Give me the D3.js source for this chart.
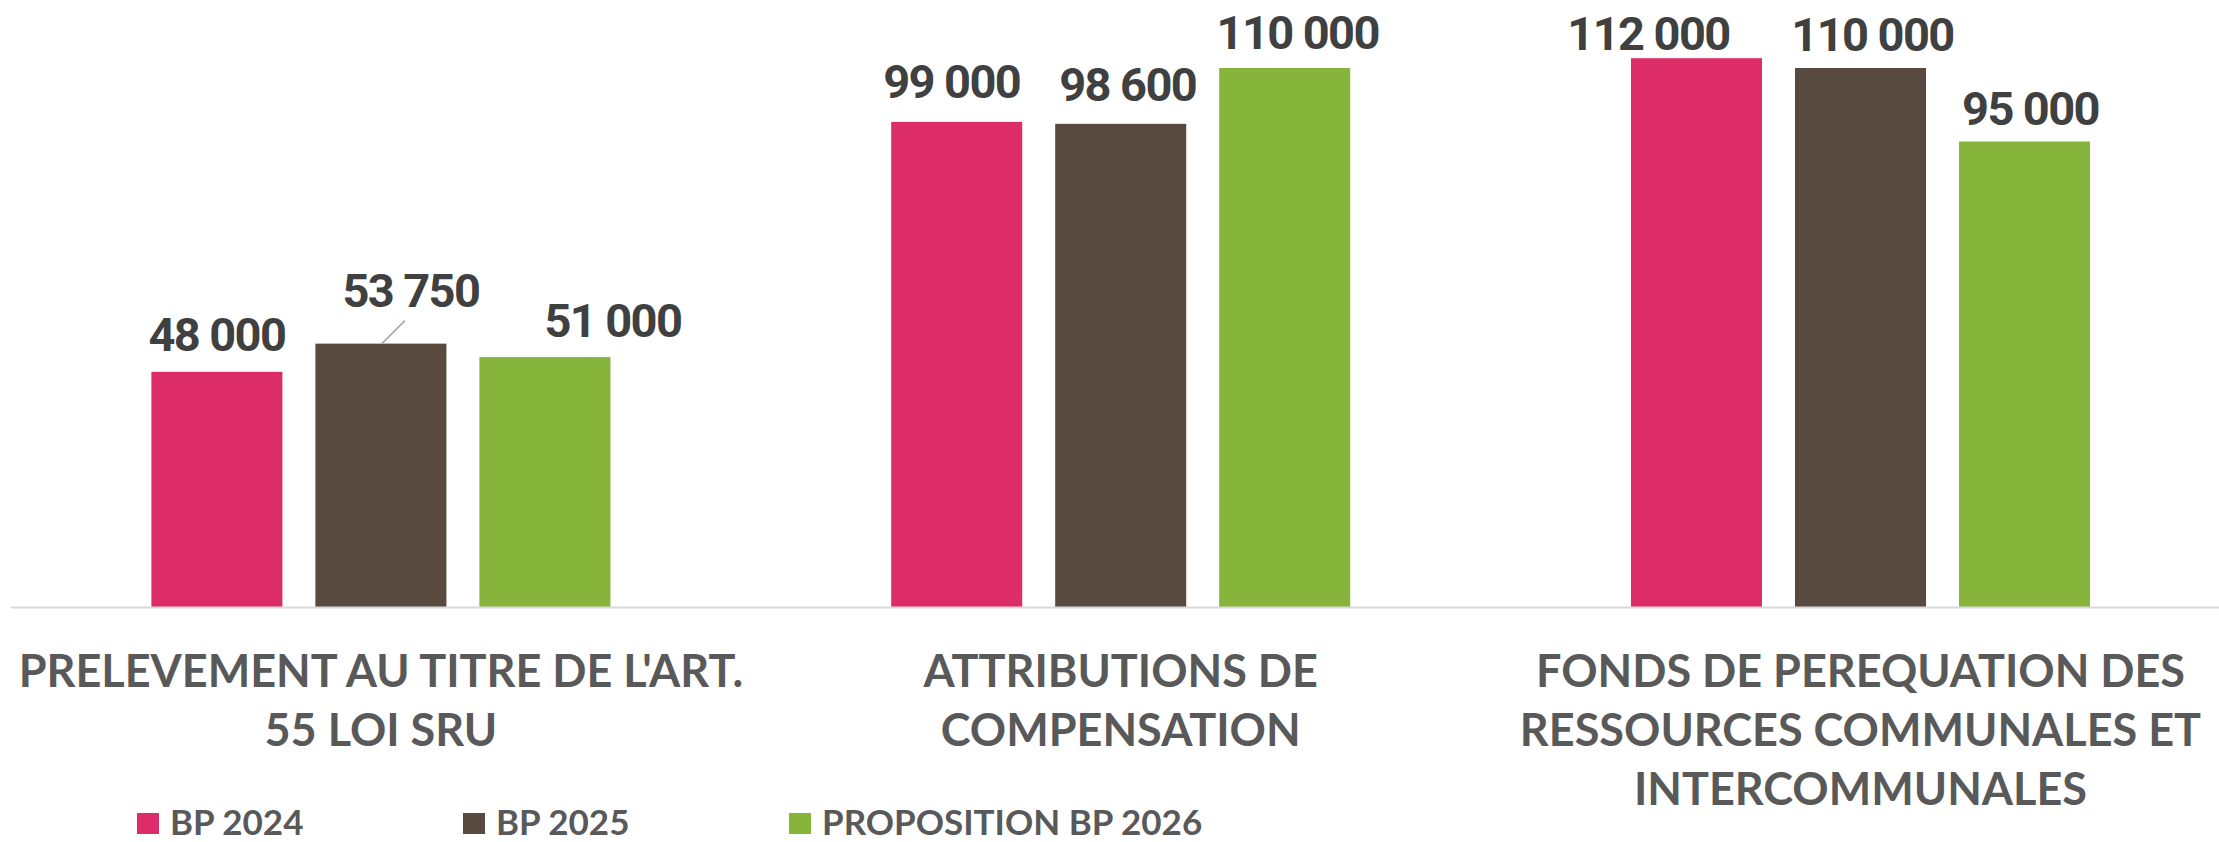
<!DOCTYPE html>
<html>
<head>
<meta charset="utf-8">
<script src="https://cdn.jsdelivr.net/npm/d3@7"></script>
<style>
  body { margin: 0; background: #fff; }
  svg { display: block; }
</style>
</head>
<body>
<div id="chart"></div>
<script>
// categories (one line per array entry, as wrapped in the original)
const categories = ["SRU", "AC", "FPIC"];
const categoryLines = [
    ["PRELEVEMENT AU TITRE DE L'ART.", "55 LOI SRU"],
    ["ATTRIBUTIONS DE", "COMPENSATION"],
    ["FONDS DE PEREQUATION DES", "RESSOURCES COMMUNALES ET", "INTERCOMMUNALES"]
];

// series
const series = ["BP 2024", "BP 2025", "PROPOSITION BP 2026"];
const bp2024 = [48000, 99000, 112000];
const bp2025 = [53750, 98600, 110000];
const bp2026 = [51000, 110000, 95000];
const colours = ["#DD2D69", "#594A40", "#87B43A"];

// label nudges (dx, dy) like the hand placed labels in the original
const labelNudge = [
    [[0, -21], [30, -37], [68, -20]],
    [[-5, -24], [7, -23], [13, -19]],
    [[-48, -8], [12, -17], [6, -17]]
];

const width = 2219, height = 842;
const baseline = 607;

const svg = d3.select("#chart")
    .append("svg")
    .attr("width", width)
    .attr("height", height);

// Scales
const x = d3.scaleBand()
    .domain(categories)
    .range([11, 2230.4]);

const xSub = d3.scaleBand()
    .domain(series)
    .range([0, x.bandwidth()])
    .paddingInner(0.201)
    .paddingOuter(0.856);

const y = d3.scaleLinear()
    .domain([0, 120000])
    .range([baseline, 19]);

const fmt = v => d3.format(",")(v).replace(/,/g, " ");

// Build rows
const rows = [];
categories.forEach((c, i) => {
    [bp2024, bp2025, bp2026].forEach((vals, j) => {
        rows.push({cat: c, ci: i, s: series[j], si: j, value: vals[i]});
    });
});

// Bars
svg.selectAll(".bar")
    .data(rows)
    .join("rect")
    .attr("class", "bar")
    .attr("x", d => x(d.cat) + xSub(d.s))
    .attr("y", d => y(d.value))
    .attr("width", xSub.bandwidth())
    .attr("height", d => baseline - y(d.value))
    .attr("fill", d => colours[d.si]);

// Axis line
svg.append("line")
    .attr("x1", 11)
    .attr("x2", width)
    .attr("y1", baseline + 0.5)
    .attr("y2", baseline + 0.5)
    .attr("stroke", "#D9D9D9")
    .attr("stroke-width", 2);

// Leader line for the moved 53 750 label
const lead = rows.find(d => d.ci === 0 && d.si === 1);
const lx = x(lead.cat) + xSub(lead.s) + xSub.bandwidth() / 2;
svg.append("line")
    .attr("x1", lx + 1)
    .attr("y1", y(lead.value))
    .attr("x2", lx + 24)
    .attr("y2", y(lead.value) - 23)
    .attr("stroke", "#A6A6A6")
    .attr("stroke-width", 1.5);

// Data labels
svg.selectAll(".lbl")
    .data(rows)
    .join("text")
    .attr("class", "lbl")
    .attr("x", d => x(d.cat) + xSub(d.s) + xSub.bandwidth() / 2 + labelNudge[d.ci][d.si][0])
    .attr("y", d => y(d.value) + labelNudge[d.ci][d.si][1])
    .attr("text-anchor", "middle")
    .style("font-family", "Roboto, sans-serif")
    .style("font-weight", 700)
    .style("font-size", "47px")
    .style("letter-spacing", "-1.6px")
    .style("fill", "#404040")
    .text(d => fmt(d.value));

// Category labels
const catG = svg.selectAll(".cat")
    .data(categories)
    .join("text")
    .attr("class", "cat")
    .attr("text-anchor", "middle")
    .style("font-family", "Lato, sans-serif")
    .style("font-weight", 700)
    .style("font-size", "45px")
    .style("fill", "#595959");

catG.selectAll("tspan")
    .data((d, i) => categoryLines[i].map(t => ({t, c: d})))
    .join("tspan")
    .attr("x", d => x(d.c) + x.bandwidth() / 2)
    .attr("y", (d, k) => 687 + k * 59)
    .text(d => d.t);

// Legend
const legend = svg.selectAll(".leg")
    .data(series)
    .join("g")
    .attr("class", "leg")
    .attr("transform", (d, i) => `translate(${137 + i * 326},813)`);

legend.append("rect")
    .attr("width", 22)
    .attr("height", 21)
    .attr("fill", (d, i) => colours[i]);

legend.append("text")
    .attr("x", 33)
    .attr("y", 22)
    .style("font-family", "Lato, sans-serif")
    .style("font-weight", 700)
    .style("font-size", "35px")
    .style("fill", "#595959")
    .text(d => d);
</script>
</body>
</html>
